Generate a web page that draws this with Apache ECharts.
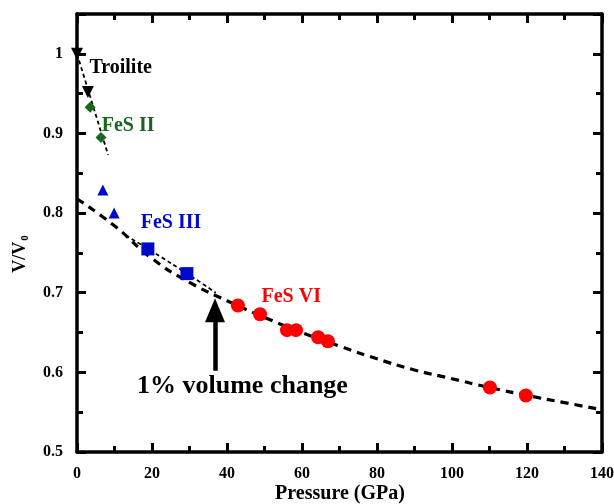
<!DOCTYPE html>
<html>
<head>
<meta charset="utf-8">
<script src="https://cdn.jsdelivr.net/npm/echarts@6/dist/echarts.min.js"></script>
<style>
  html, body { margin: 0; padding: 0; background: #fff; }
  #chart { width: 614px; height: 504px; }
</style>
</head>
<body>
<div id="chart"></div>
<script>
    // data: [pressure GPa, V/V0]
    var troilite = [[0, 1.0], [2.9, 0.952]];
    var fes2 = [[3.5, 0.933], [6.4, 0.895]];
    var fes3Tri = [[6.9, 0.829], [9.9, 0.800]];
    var fes3Sq = [[18.9, 0.755], [29.3, 0.724]];
    var fes6 = [[42.9, 0.684], [48.8, 0.673], [56.0, 0.653], [58.4, 0.653],
        [64.3, 0.644], [66.9, 0.639], [110.1, 0.581], [119.7, 0.571]];

    // fitted curves
    var fitLow = [[0, 1.0], [8.3, 0.873]];
    var fitFes3 = [[13, 0.772], [20, 0.752], [30, 0.722], [37, 0.700]];
    var fitMain = [[0, 0.818], [10, 0.784], [20, 0.743], [30, 0.713], [40, 0.690],
        [50, 0.669], [60, 0.650], [70, 0.633], [80, 0.617], [90, 0.603],
        [100, 0.592], [110, 0.581], [120, 0.571], [130, 0.562], [140, 0.553]];

    var arrowFrom = [36.8, 0.602];
    var arrowTo = [36.8, 0.678];

    var font = 'Liberation Serif';
    var green = '#17661c';
    var blue = '#0008cc';
    var red = '#ff0000';

    function axisStyle() {
        return {
            axisLine: { onZero: false, lineStyle: { color: '#000', width: 3.5 } },
            axisTick: { inside: true, length: 9, lineStyle: { color: '#000', width: 3 } },
            minorTick: { show: true, splitNumber: 2, length: 6, lineStyle: { color: '#000', width: 3 } },
            splitLine: { show: false }
        };
    }

    function label(text, x, y, color, size) {
        return {
            type: 'scatter', data: [[x, y]], symbolSize: 0, silent: true, z: 5,
            itemStyle: { opacity: 1 },
            label: {
                show: true, position: 'right', distance: 0, formatter: text,
                fontFamily: font, fontWeight: 'bold', fontSize: size, color: color
            }
        };
    }

    var chart = echarts.init(document.getElementById('chart'));
    chart.setOption({
        animation: false,
        grid: { left: 77, right: 12, top: 14, bottom: 52, outerBoundsMode: 'none', containLabel: false },
        // x axis title drawn as text below the tick labels
        graphic: [{
            type: 'text', x: 340, y: 494, silent: true,
            style: {
                text: 'Pressure (GPa)', align: 'center', verticalAlign: 'middle',
                fontFamily: font, fontWeight: 'bold', fontSize: 20, fill: '#000'
            }
        }],
        xAxis: [
            Object.assign(axisStyle(), {
                type: 'value', min: 0, max: 140, interval: 20,
                axisLabel: { fontFamily: font, fontWeight: 'bold', fontSize: 16, color: '#000', margin: 14 }
            }),
            Object.assign(axisStyle(), {
                type: 'value', min: 0, max: 140, interval: 20, position: 'top',
                axisLabel: { show: false }
            })
        ],
        yAxis: [
            Object.assign(axisStyle(), {
                type: 'value', min: 0.5, max: 1.05, interval: 0.1,
                name: '{a|V/V}{b|0}', nameLocation: 'middle', nameGap: 46,
                nameTextStyle: {
                    padding: [0, 42, 0, 0],
                    rich: {
                        a: { fontFamily: font, fontWeight: 'bold', fontSize: 18, color: '#000' },
                        b: { fontFamily: font, fontWeight: 'bold', fontSize: 11, color: '#000', padding: [10, 0, 0, 1] }
                    }
                },
                axisLabel: {
                    fontFamily: font, fontWeight: 'bold', fontSize: 16, color: '#000', margin: 14,
                    formatter: function(v) {
                        if (v > 1.001) return '';
                        return Math.abs(v - 1) < 1e-6 ? '1' : v.toFixed(1);
                    }
                }
            }),
            Object.assign(axisStyle(), {
                type: 'value', min: 0.5, max: 1.05, interval: 0.1, position: 'right',
                axisLabel: { show: false }
            })
        ],
        series: [
            {
                type: 'line', data: fitMain, smooth: true, symbol: 'none',
                lineStyle: { color: '#000', width: 3.2, type: [8, 6] }, z: 2
            },
            {
                type: 'line', data: fitFes3, smooth: true, symbol: 'none',
                lineStyle: { color: '#000', width: 1.8, type: [4, 3] }, z: 2
            },
            {
                type: 'line', data: fitLow, symbol: 'none',
                lineStyle: { color: '#000', width: 1.8, type: [4, 3] }, z: 2
            },
            {
                type: 'scatter', data: troilite, symbol: 'triangle', symbolRotate: 180,
                symbolSize: 12, itemStyle: { color: '#000', opacity: 1 }, z: 3
            },
            {
                type: 'scatter', data: fes2, symbol: 'diamond',
                symbolSize: 11, itemStyle: { color: green, opacity: 1 }, z: 3
            },
            {
                type: 'scatter', data: fes3Tri, symbol: 'triangle',
                symbolSize: 11, itemStyle: { color: blue, opacity: 1 }, z: 3
            },
            {
                type: 'scatter', data: fes3Sq, symbol: 'rect',
                symbolSize: 13, itemStyle: { color: blue, opacity: 1 }, z: 3
            },
            {
                type: 'scatter', data: fes6, symbol: 'circle',
                symbolSize: 14, itemStyle: { color: red, opacity: 1 }, z: 3
            },
            {
                type: 'line', data: [], silent: true,
                markLine: {
                    silent: true, symbol: ['none', 'triangle'], symbolSize: [20, 24],
                    label: { show: false },
                    lineStyle: { color: '#000', width: 4.5, type: 'solid', opacity: 1 },
                    data: [[{ coord: arrowFrom }, { coord: arrowTo }]]
                }
            },
            label('Troilite', 3.3, 0.983, '#000', 20),
            label('FeS II', 6.6, 0.909, green, 20),
            label('FeS III', 17.0, 0.788, blue, 20),
            label('FeS VI', 49.2, 0.695, red, 20),
            label('1% volume change', 16.0, 0.582, '#000', 26)
        ]
    });
</script>
</body>
</html>
